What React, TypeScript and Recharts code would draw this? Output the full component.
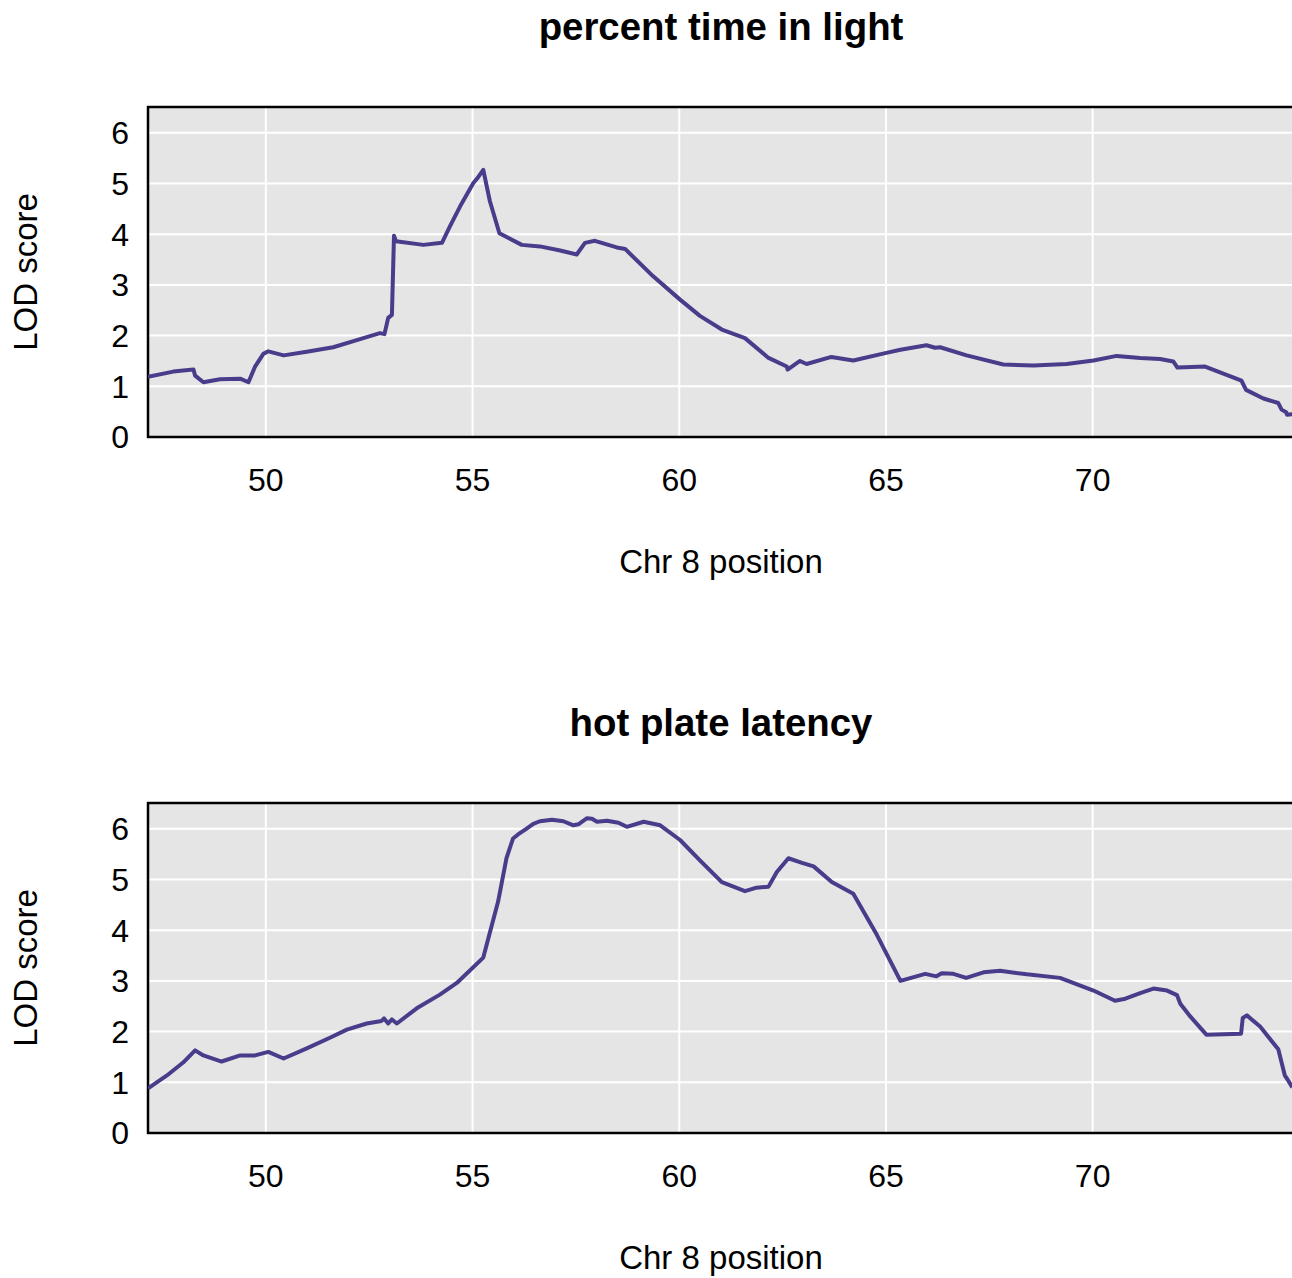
import React from 'react';
import { LineChart, Line, XAxis, YAxis, CartesianGrid, ReferenceArea, Label } from 'recharts';

const FONT = '"Liberation Sans", Arial, Helvetica, sans-serif';
const LINE_COLOR = '#483D8B';

const X_MIN = 47.15;
const X_MAX = 74.87;
const Y_MAX = 6.51;
const xTicks = [50, 55, 60, 65, 70];
const yTicks = [0, 1, 2, 3, 4, 5, 6];

const titles = ['percent time in light', 'hot plate latency'];
const xLabel = 'Chr 8 position';
const yLabel = 'LOD score';

const pos1 = [
  47.15, 47.76, 48.25, 48.29, 48.49, 48.89, 49.38, 49.58, 49.74, 49.94, 50.06, 50.43, 50.99, 51.63,
  52.2, 52.76, 52.87, 52.96, 53.05, 53.1, 53.15, 53.81, 54.26, 54.45, 54.7, 55.02, 55.14, 55.26,
  55.42, 55.65, 56.19, 56.63, 57.12, 57.52, 57.72, 57.96, 58.49, 58.69, 59.37, 60.02, 60.5, 61.03,
  61.59, 62.16, 62.6, 62.62, 62.92, 63.08, 63.68, 64.21, 65.01, 65.35, 65.98, 66.19, 66.31, 66.95,
  67.84, 68.57, 69.37, 70.02, 70.58, 71.15, 71.63, 71.95, 72.05, 72.72, 73.6, 73.71, 74.13, 74.49,
  74.57, 74.68, 74.7, 74.83,
];
const lod1 = [
  1.19, 1.29, 1.33, 1.21, 1.08, 1.14, 1.15, 1.08, 1.39, 1.64, 1.69, 1.61, 1.68, 1.77,
  1.91, 2.05, 2.03, 2.35, 2.41, 3.97, 3.86, 3.79, 3.83, 4.15, 4.55, 5.01, 5.13, 5.27,
  4.65, 4.02, 3.79, 3.76, 3.68, 3.6, 3.83, 3.87, 3.74, 3.71, 3.17, 2.71, 2.39, 2.12,
  1.95, 1.56, 1.39, 1.33, 1.5, 1.44, 1.58, 1.51, 1.66, 1.72, 1.81, 1.76, 1.77, 1.61,
  1.43, 1.41, 1.44, 1.51, 1.6, 1.56, 1.54, 1.49, 1.37, 1.39, 1.11, 0.93, 0.76, 0.67,
  0.54, 0.49, 0.44, 0.45,
];

const pos2 = [
  47.15, 47.6, 48.0, 48.29, 48.49, 48.93, 49.38, 49.74, 50.06, 50.43, 50.99, 51.55, 51.96, 52.44,
  52.8, 52.86, 52.96, 53.05, 53.17, 53.65, 54.21, 54.62, 55.26, 55.62, 55.82, 55.98, 56.1, 56.3,
  56.47, 56.63, 56.92, 57.2, 57.44, 57.56, 57.77, 57.89, 58.01, 58.25, 58.53, 58.73, 59.14, 59.54,
  60.02, 60.5, 61.03, 61.59, 61.87, 62.16, 62.36, 62.64, 62.97, 63.25, 63.69, 64.21, 64.78, 65.35,
  65.95, 66.22, 66.35, 66.63, 66.94, 67.36, 67.76, 68.41, 69.21, 70.02, 70.54, 70.79, 71.15, 71.47,
  71.8, 72.04, 72.12, 72.36, 72.75, 73.59, 73.63, 73.73, 74.05, 74.49, 74.65, 74.71, 74.83,
];
const lod2 = [
  0.88, 1.13, 1.39, 1.63, 1.53, 1.41, 1.53, 1.53, 1.6, 1.47, 1.67, 1.88, 2.04, 2.16,
  2.21, 2.26, 2.16, 2.24, 2.16, 2.46, 2.73, 2.96, 3.46, 4.57, 5.42, 5.81, 5.89, 6.0,
  6.1, 6.15, 6.18, 6.15, 6.07, 6.09, 6.21, 6.2, 6.14, 6.16, 6.12, 6.04, 6.14, 6.07,
  5.78, 5.38, 4.95, 4.77, 4.84, 4.86, 5.15, 5.42, 5.33, 5.26, 4.95, 4.72, 3.91, 3.0,
  3.14, 3.09, 3.15, 3.14, 3.06, 3.17, 3.2, 3.13, 3.06, 2.81, 2.61, 2.65, 2.76, 2.85,
  2.81, 2.72, 2.55, 2.3, 1.94, 1.96, 2.27, 2.32, 2.1, 1.65, 1.13, 1.06, 0.9,
];

const build = (pos: number[], lod: number[]) => pos.map((p, i) => ({ pos: p, lod: lod[i] }));
const datasets = [build(pos1, lod1), build(pos2, lod2)];

const PANEL_H = 696;
const CHART_W = 1300;

function Panel({ title, data }: { title: string; data: { pos: number; lod: number }[] }) {
  return (
    <div style={{ position: 'relative', width: CHART_W, height: PANEL_H }}>
      <div
        style={{
          position: 'absolute',
          left: 148,
          width: 1146,
          top: 8,
          textAlign: 'center',
          fontFamily: FONT,
          fontWeight: 'bold',
          fontSize: 38.4,
          lineHeight: '38.4px',
          color: '#000',
          whiteSpace: 'nowrap',
        }}
      >
        {title}
      </div>
      <LineChart
        width={CHART_W}
        height={PANEL_H}
        data={data}
        margin={{ top: 107, right: 6, bottom: 199, left: 0 }}
      >
        <CartesianGrid fill="#E5E5E5" stroke="#FFFFFF" strokeWidth={2} />
        <XAxis
          dataKey="pos"
          type="number"
          domain={[X_MIN, X_MAX]}
          ticks={xTicks}
          allowDataOverflow
          axisLine={false}
          tickLine={false}
          tickSize={0}
          tickMargin={31}
          height={60}
          tick={{ fontSize: 32, fill: '#000', fontFamily: FONT }}
        >
          <Label
            content={(props: any) => {
              const vb = props.viewBox || { x: 148, y: 437, width: 1146 };
              return (
                <text
                  x={vb.x + vb.width / 2}
                  y={vb.y + 136}
                  textAnchor="middle"
                  fontSize={33}
                  fontFamily={FONT}
                  fill="#000"
                >
                  {xLabel}
                </text>
              );
            }}
          />
        </XAxis>
        <YAxis
          type="number"
          domain={[0, Y_MAX]}
          ticks={yTicks}
          allowDataOverflow
          axisLine={false}
          tickLine={false}
          tickSize={0}
          tickMargin={19}
          width={148}
          tick={{ fontSize: 32, fill: '#000', fontFamily: FONT }}
        >
          <Label
            content={(props: any) => {
              const vb = props.viewBox || { x: 0, y: 107, height: 330 };
              const cx = vb.x + 25;
              const cy = vb.y + vb.height / 2;
              return (
                <text
                  x={cx}
                  y={cy}
                  transform={`rotate(-90 ${cx} ${cy})`}
                  textAnchor="middle"
                  dominantBaseline="central"
                  fontSize={33}
                  fontFamily={FONT}
                  fill="#000"
                >
                  {yLabel}
                </text>
              );
            }}
          />
        </YAxis>
        <Line
          type="linear"
          dataKey="lod"
          stroke={LINE_COLOR}
          strokeWidth={4}
          strokeLinejoin="round"
          dot={false}
          activeDot={false}
          isAnimationActive={false}
        />
        <ReferenceArea
          x1={X_MIN}
          x2={X_MAX}
          y1={0}
          y2={Y_MAX}
          fill="none"
          fillOpacity={0}
          stroke="#000"
          strokeWidth={2.5}
          ifOverflow="visible"
        />
      </LineChart>
    </div>
  );
}

export default function App() {
  return (
    <div
      style={{
        position: 'absolute',
        left: 0,
        top: 0,
        width: 1292,
        height: 1278,
        overflow: 'hidden',
        background: '#fff',
      }}
    >
      {titles.map((t, i) => (
        <Panel key={t} title={t} data={datasets[i]} />
      ))}
    </div>
  );
}
